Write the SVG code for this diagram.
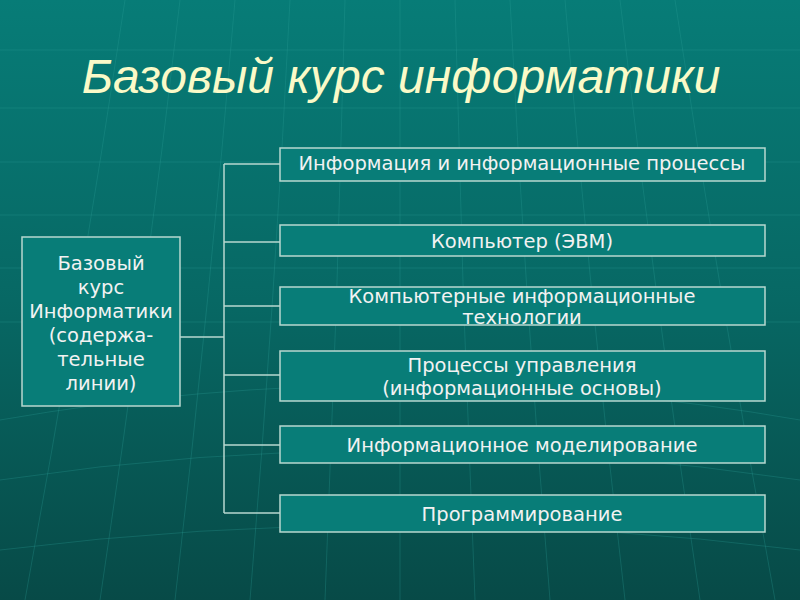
<svg xmlns="http://www.w3.org/2000/svg" width="800" height="600" viewBox="0 0 800 600">
<defs>
<linearGradient id="bg" x1="0" y1="0" x2="0" y2="1">
<stop offset="0" stop-color="#077c77"/>
<stop offset="0.5" stop-color="#076864"/>
<stop offset="1" stop-color="#074a47"/>
</linearGradient>
<style>
.grid{fill:none;stroke:#2fa39b;stroke-width:1;opacity:0.28}
.box{fill:#087d78;stroke:#b8d8cf;stroke-width:1.5}
.conn{fill:none;stroke:#b8d8cf;stroke-width:1.5}
.t{font-family:"DejaVu Sans",Verdana,sans-serif;font-size:19.5px;fill:#f2f2f2;text-anchor:middle}
.title{font-family:"Liberation Sans",Arial,sans-serif;font-style:italic;font-size:48px;fill:#fafac8;text-anchor:middle}
</style>
</defs>
<rect width="800" height="600" fill="url(#bg)"/>
<g id="background-grid">
<path class="grid" d="M0 50 H800 M0 108 H800 M0 162 H800 M0 215 H800 M0 268 H800 M0 322 H800"/>
<path class="grid" d="M400 0 V600 M345 0 Q338 300 325 600 M290 0 Q275 300 250 600 M235 0 Q210 300 175 600 M180 0 Q145 300 100 600 M125 0 Q80 300 25 600 M455 0 Q462 300 475 600 M510 0 Q525 300 550 600 M565 0 Q590 300 625 600 M620 0 Q655 300 700 600 M675 0 Q720 300 775 600"/>
<path class="grid" d="M0 420 Q400 350 800 420 M0 480 Q400 420 800 480 M0 550 Q400 500 800 550"/>
</g>
<text class="title" x="401" y="93">Базовый курс информатики</text>
<g id="connectors">
<path class="conn" d="M180 337 H224 M224 164 V513 M224 164 H280 M224 242 H280 M224 306 H280 M224 375 H280 M224 445 H280 M224 513 H280"/>
</g>
<g id="root">
<rect class="box" x="22" y="237" width="158" height="169"/>
<text class="t" x="101" y="270">Базовый</text>
<text class="t" x="101" y="294">курс</text>
<text class="t" x="101" y="318">Информатики</text>
<text class="t" x="101" y="342">(содержа-</text>
<text class="t" x="101" y="366">тельные</text>
<text class="t" x="101" y="390">линии)</text>
</g>
<g id="n1">
<rect class="box" x="280" y="148" width="485" height="33"/>
<text class="t" x="522" y="170">Информация и информационные процессы</text>
</g>
<g id="n2">
<rect class="box" x="280" y="225" width="485" height="31"/>
<text class="t" x="522" y="248">Компьютер (ЭВМ)</text>
</g>
<g id="n3">
<rect class="box" x="280" y="287" width="485" height="38"/>
<text class="t" x="522" y="303">Компьютерные информационные</text>
<text class="t" x="522" y="324">технологии</text>
</g>
<g id="n4">
<rect class="box" x="280" y="351" width="485" height="50"/>
<text class="t" x="522" y="372">Процессы управления</text>
<text class="t" x="522" y="395">(информационные основы)</text>
</g>
<g id="n5">
<rect class="box" x="280" y="426" width="485" height="37"/>
<text class="t" x="522" y="452">Информационное моделирование</text>
</g>
<g id="n6">
<rect class="box" x="280" y="495" width="485" height="37"/>
<text class="t" x="522" y="521">Программирование</text>
</g>
</svg>
